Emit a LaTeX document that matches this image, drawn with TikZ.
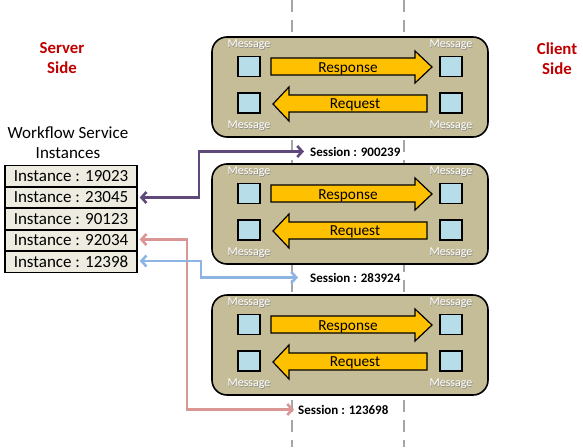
\documentclass[tikz,border=0pt]{standalone}
\usepackage{fontspec}
\setmainfont{Carlito}
\usetikzlibrary{arrows.meta,calc}
\definecolor{boxfill}{HTML}{C4BD97}
\definecolor{sqfill}{HTML}{B7DEE8}
\definecolor{arrfill}{HTML}{FFC000}
\definecolor{rowfill}{HTML}{EEECE1}
\definecolor{sidered}{HTML}{C00000}
\definecolor{cpurple}{HTML}{5F497A}
\definecolor{cpink}{HTML}{D99694}
\definecolor{cblue}{HTML}{8EB4E3}
\definecolor{dashgray}{HTML}{A6A6A6}
\tikzset{
  sessbox/.style={draw=black,line width=1.6pt,fill=boxfill,rounded corners=15pt},
  msgsq/.style={draw=black,line width=1.4pt,fill=sqfill,minimum width=22pt,minimum height=20pt,inner sep=0pt},
  bigarrow/.style={draw=black,line width=1.2pt,fill=arrfill,line join=miter},
  arrlabel/.style={font=\fontsize{15.3}{17}\selectfont,inner sep=0pt},
  msglabel/.style={font=\fontsize{12}{13}\selectfont,text=white,inner sep=0pt},
  msgshadow/.style={font=\fontsize{12}{13}\selectfont,text=black!45,inner sep=0pt},
  sesslabel/.style={font=\bfseries\fontsize{13}{15}\selectfont,anchor=west,inner sep=0pt},
  instrow/.style={draw=black,line width=1.4pt,fill=rowfill,minimum width=132pt,minimum height=21.3pt,inner sep=0pt,font=\fontsize{17}{19}\selectfont},
  sidelabel/.style={font=\bfseries\fontsize{16.8}{20}\selectfont,text=sidered,align=center},
  conn/.style={line width=2.6pt,{Straight Barb[length=5pt,width=11pt]}-{Straight Barb[length=5pt,width=11pt]}},
  guide/.style={draw=dashgray,line width=1.6pt,dash pattern=on 12pt off 8pt}
}
\begin{document}
\begin{tikzpicture}[x=1pt,y=-1pt]
\useasboundingbox (0,0) rectangle (583,447);
% dashed guides
\draw[guide] (292,0) -- (292,447);
\draw[guide] (404,0) -- (404,447);
% session boxes
\foreach \i/\T in {1/37,2/164,3/295}{
  \draw[sessbox] (212,\T) rectangle (488,\T+100);
  \node[msgsq] (sqtl\i) at (249,\T+29.5) {};
  \node[msgsq] (sqbl\i) at (249,\T+66) {};
  \node[msgsq] (sqtr\i) at (451,\T+29.5) {};
  \node[msgsq] (sqbr\i) at (451,\T+66) {};
  \foreach \n/\x/\y in {a/249/8,b/451/8,c/249/89,d/451/89}{
    \node[msgshadow] at (\x+0.6,\T+\y+0.6) {Message};
    \node[msglabel] (msg\n\i) at (\x,\T+\y) {Message};
  }
  \draw[bigarrow] (271,\T+21) -- (415,\T+21) -- (415,\T+14) -- (432,\T+30) -- (415,\T+46) -- (415,\T+38) -- (271,\T+38) -- cycle;
  \node[arrlabel] (resp\i) at (348,\T+31.5) {Response};
  \draw[bigarrow] (427,\T+58) -- (289,\T+58) -- (289,\T+50) -- (273,\T+67) -- (289,\T+84) -- (289,\T+75) -- (427,\T+75) -- cycle;
  \node[arrlabel] (req\i) at (355,\T+67.5) {Request};
}
% session labels
\node[sesslabel] (sess1) at (310,151.5) {Session : 900239};
\node[sesslabel] (sess2) at (310,277.5) {Session : 283924};
\node[sesslabel] (sess3) at (298,409.5) {Session : 123698};
% side labels
\node[sidelabel] (server) at (62,58.5) {Server\\Side};
\node[sidelabel] (client) at (557,58.5) {Client\\Side};
% workflow instances
\node[font=\fontsize{17}{20}\selectfont,align=center] (wftitle) at (68,143) {Workflow Service\\Instances};
\node[instrow] (inst1) at (71,176) {Instance : 19023};
\node[instrow] (inst2) at (71,197.5) {Instance : 23045};
\node[instrow] (inst3) at (71,219) {Instance : 90123};
\node[instrow] (inst4) at (71,240.5) {Instance : 92034};
\node[instrow] (inst5) at (71,262) {Instance : 12398};
% connectors
\coordinate (cp) at (197,0);
\coordinate (ck) at (185,0);
\coordinate (cb) at (199,0);
\draw[conn,cpurple] ([xshift=2pt]inst2.east) -- ([xshift=2pt]inst2.east -| cp) |- ([xshift=-6pt]sess1.west);
\draw[conn,cpink] ([xshift=2pt,yshift=1pt]inst4.east) -- ([xshift=2pt,yshift=1pt]inst4.east -| ck) |- ([xshift=-4pt]sess3.west);
\draw[conn,cblue] ([xshift=2pt,yshift=1pt]inst5.east) -- ([xshift=2pt,yshift=1pt]inst5.east -| cb) |- ([xshift=-12pt]sess2.west);
\end{tikzpicture}
\end{document}
